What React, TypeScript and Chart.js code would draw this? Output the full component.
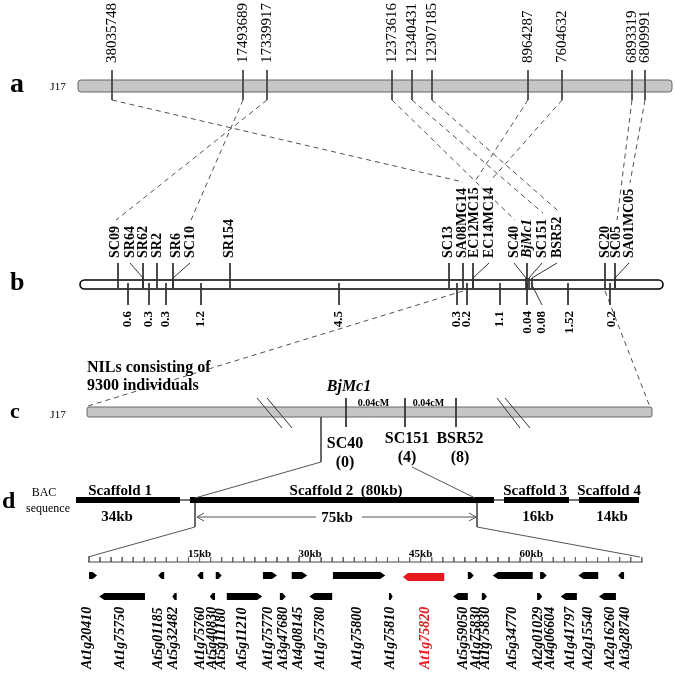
import React, { useEffect, useRef } from 'react';
import { Chart, registerables } from 'chart.js';
Chart.register(...registerables);

// ---------- DATA ----------
// a: physical positions (bp) on J17, schematic map positions
const physLabels = ['38035748', '17493689', '17339917', '12373616', '12340431', '12307185', '8964287', '7604632', '6893319', '6809991'];
const physPos = [112, 243, 267, 392, 412, 432, 528, 562, 632, 645];
// index of linked marker in b
const physToB = [8, 5, 0, 11, 13, 14, 9, 10, 16, 17];

// b: genetic map markers
const bMarkers = ['SC09', 'SR64', 'SR62', 'SR2', 'SR6', 'SC10', 'SR154', 'SC13', 'SA08MG14', 'EC12MC15', 'EC14MC14', 'SC40', 'BjMc1', 'SC151', 'BSR52', 'SC20', 'SC05', 'SA01MC05'];
const bLabelPos = [115, 130, 143, 157, 176, 190, 229, 448, 462, 474, 489, 514, 527, 542, 557, 605, 616, 629];
const bLocusPos = [118, 143, 143, 157, 173, 173, 230, 449, 463, 473, 473, 526, 527, 529, 532, 605, 615, 615];
const bDistances = ['0.6', '0.3', '0.3', '1.2', '4.5', '0.3', '0.2', '1.1', '0.04', '0.08', '1.52', '0.2'];
const bDistTickPos = [128, 149, 166, 201, 339, 457, 467, 500, 527, 531, 568, 610];
const bDistLabelPos = [128, 149, 166, 201, 339, 457, 467, 500, 528, 542, 570, 612];

// c: fine map
const cMarkers = ['SC40', 'SC151', 'BSR52'];
const cRecombinants = ['(0)', '(4)', '(8)'];
const cMarkerPos = [346, 405, 456];
const cLabelPos = [345, 407, 460];
const cIntervals = ['0.04cM', '0.04cM'];

// d: BAC scaffolds
const scaffoldNames = ['Scaffold 1', 'Scaffold 2  (80kb)', 'Scaffold 3', 'Scaffold 4'];
const scaffoldSizes = ['34kb', '', '16kb', '14kb'];
const scaffoldStart = [76, 190, 504, 579];
const scaffoldEnd = [180, 494, 569, 639];
const scaffoldNamePos = [120, 346, 535, 609];
const scaffoldSizePos = [117, 0, 538, 612];

// genes (kb on the 75 kb interval)
const rulerLabelsKb = [15, 30, 45, 60];
const geneNames = ['At1g20410', 'At1g75750', 'At5g01185', 'At5g32482', 'At1g75760', 'At5g40830', 'At5g11180', 'At5g11210', 'At1g75770', 'At3g47680', 'At4g08145', 'At1g75780', 'At1g75800', 'At1g75810', 'At1g75820', 'At5g59050', 'At1g75830', 'At1g75830', 'At5g34770', 'At2g01029', 'At4g06604', 'At1g41797', 'At2g15540', 'At2g16260', 'At3g28740'];
const geneStartKb = [0.0, 1.4, 9.4, 11.3, 14.7, 16.4, 17.2, 18.7, 23.6, 25.9, 27.5, 29.9, 33.1, 40.7, 42.6, 49.4, 51.4, 53.3, 54.8, 61.2, 60.8, 64.0, 66.4, 69.2, 71.8];
const geneEndKb = [1.1, 7.6, 10.2, 11.9, 15.5, 17.1, 18.0, 23.5, 25.5, 26.7, 29.6, 33.0, 40.2, 41.2, 48.2, 51.4, 52.2, 54.0, 60.2, 62.1, 61.5, 66.2, 69.1, 71.5, 72.6];
const geneStrand = [1, -1, -1, -1, -1, -1, 1, 1, 1, 1, 1, -1, 1, 1, -1, -1, 1, 1, -1, 1, 1, -1, -1, -1, -1];
const geneRow = [1, 2, 1, 2, 1, 2, 1, 2, 1, 2, 1, 2, 1, 2, 1, 2, 1, 2, 1, 1, 2, 2, 1, 2, 1];
const geneLabelKb = [-0.27, 4.21, 9.36, 11.4, 15.06, 16.69, 17.91, 20.76, 24.29, 26.32, 28.36, 31.34, 36.36, 40.84, 45.59, 50.75, 52.51, 53.73, 57.39, 60.92, 62.55, 65.27, 67.71, 70.69, 72.73];
const candidateGene = 'At1g75820';

// ---------- LAYOUT / STYLE ----------
const W = 675;
const H = 673;
const SERIF = '"Liberation Serif", "Times New Roman", serif';
const RULER_X0 = 89;
const RULER_X1 = 641.75;
const RULER_KB = 75;
const RED = '#e41a1c';
const DASH_COLOR = '#505050';

export default function App() {
  const ref = useRef<HTMLCanvasElement>(null);

  useEffect(() => {
    const canvas = ref.current!;
    const meas = document.createElement('canvas').getContext('2d')!;
    const tw = (t: string, font: string) => { meas.font = font; return meas.measureText(t).width; };
    const kbX = (kb: number) => RULER_X0 + (kb / RULER_KB) * (RULER_X1 - RULER_X0);

    const segs: any[] = [];
    const seg = (pts: number[][], color = '#333', width = 1, dash: number[] = [], cap: CanvasLineCap = 'butt') =>
      segs.push({ pts, color, width, dash, cap });

    const bFont = `bold 14px ${SERIF}`;
    const bItalic = `italic bold 14px ${SERIF}`;

    // a marker lines
    physPos.forEach((p) => seg([[p, 70], [p, 100]], '#444', 1));
    // a -> b dashed links
    physPos.forEach((p, i) => {
      const j = physToB[i];
      const name = bMarkers[j];
      const top = 258 - tw(name, name === 'BjMc1' ? bItalic : bFont) - 6;
      seg([[p, 100], [bLabelPos[j] + 1, top]], DASH_COLOR, 1, [5, 4]);
    });
    // b marker ticks
    bMarkers.forEach((m, i) => {
      const l = bLabelPos[i];
      const c = bLocusPos[i];
      if (Math.abs(l - c) > 4) seg([[l, 263], [c, 278], [c, 288]], '#333', 1);
      else seg([[c, 263], [c, 288]], '#333', 1);
    });
    // b distance ticks
    bDistTickPos.forEach((t, i) => {
      const l = bDistLabelPos[i];
      if (Math.abs(l - t) > 4) seg([[t, 283], [l, 305]], '#333', 1);
      else seg([[t, 283], [t, 305]], '#333', 1);
    });
    // b -> c dashed
    seg([[463, 291], [88, 406]], DASH_COLOR, 1, [5, 4]);
    seg([[605, 291], [650, 407]], DASH_COLOR, 1, [5, 4]);
    // c marker ticks
    cMarkerPos.forEach((p) => seg([[p, 398], [p, 427]], '#333', 1));
    // c break marks
    seg([[257, 398], [282, 428]], '#333', 1);
    seg([[267, 398], [292, 428]], '#333', 1);
    seg([[497, 398], [520, 428]], '#333', 1);
    seg([[505, 398], [530, 428]], '#333', 1);
    // c -> d zoom lines
    seg([[321, 417], [321, 462], [195, 498]], '#555', 1);
    seg([[412, 467], [475, 498]], '#555', 1);
    // scaffolds
    for (let i = 0; i < scaffoldStart.length - 1; i++) seg([[scaffoldEnd[i], 500], [scaffoldStart[i + 1], 500]], '#777', 2);
    scaffoldStart.forEach((s, i) => seg([[s, 500], [scaffoldEnd[i], 500]], '#000', 6));
    // 75 kb interval
    seg([[195, 498], [195, 527]], '#555', 1);
    seg([[477, 498], [477, 527]], '#555', 1);
    seg([[197, 517], [316, 517]], '#555', 1);
    seg([[362, 517], [476, 517]], '#555', 1);
    seg([[204, 513], [197, 517], [204, 521]], '#555', 1);
    seg([[469, 513], [476, 517], [469, 521]], '#555', 1);
    seg([[195, 527], [88, 557]], '#555', 1);
    seg([[477, 527], [640, 557]], '#555', 1);
    // ruler
    seg([[kbX(0) - 1, 562], [kbX(RULER_KB) + 1, 562]], '#444', 1);
    for (let k = 0; k <= RULER_KB + 0.01; k += 1.5) seg([[kbX(k), 557], [kbX(k), 562]], '#666', 1);

    const datasets = segs.map((s) => ({
      data: s.pts.map(([x, y]: number[]) => ({ x, y })),
      showLine: true,
      borderColor: s.color,
      borderWidth: s.width,
      borderDash: s.dash,
      borderCapStyle: s.cap,
      pointRadius: 0,
      pointHoverRadius: 0,
      fill: false,
      tension: 0,
      clip: false,
    }));

    const roundRect = (ctx: CanvasRenderingContext2D, x: number, y: number, w: number, h: number, r: number) => {
      ctx.beginPath();
      ctx.moveTo(x + r, y);
      ctx.lineTo(x + w - r, y);
      ctx.arcTo(x + w, y, x + w, y + r, r);
      ctx.lineTo(x + w, y + h - r);
      ctx.arcTo(x + w, y + h, x + w - r, y + h, r);
      ctx.lineTo(x + r, y + h);
      ctx.arcTo(x, y + h, x, y + h - r, r);
      ctx.lineTo(x, y + r);
      ctx.arcTo(x, y, x + r, y, r);
      ctx.closePath();
    };

    const drawPlugin = {
      id: 'mapDraw',
      beforeDatasetsDraw(chart: any) {
        const ctx: CanvasRenderingContext2D = chart.ctx;
        const sx = chart.scales.x;
        const sy = chart.scales.y;
        const X = (v: number) => sx.getPixelForValue(v);
        const Y = (v: number) => sy.getPixelForValue(v);
        ctx.save();
        // bar a
        roundRect(ctx, X(78), Y(80), X(672) - X(78), Y(92) - Y(80), 3);
        ctx.fillStyle = '#c6c6c6';
        ctx.fill();
        ctx.strokeStyle = '#666';
        ctx.lineWidth = 1;
        ctx.stroke();
        // bar b
        roundRect(ctx, X(80), Y(280), X(663) - X(80), Y(289) - Y(280), 4.5);
        ctx.fillStyle = '#fff';
        ctx.fill();
        ctx.strokeStyle = '#000';
        ctx.lineWidth = 1.6;
        ctx.stroke();
        // bar c
        roundRect(ctx, X(87), Y(407), X(652) - X(87), Y(417) - Y(407), 2);
        ctx.fillStyle = '#c6c6c6';
        ctx.fill();
        ctx.strokeStyle = '#666';
        ctx.lineWidth = 1;
        ctx.stroke();
        // genes
        geneNames.forEach((g, i) => {
          const x0 = X(kbX(geneStartKb[i]));
          const x1 = X(kbX(geneEndKb[i]));
          const red = g === candidateGene;
          const yc = Y(geneRow[i] === 1 ? (red ? 577 : 575.5) : 596.5);
          const h = red ? 8 : 7;
          const w = x1 - x0;
          const head = Math.min(5, w * 0.55);
          ctx.beginPath();
          if (geneStrand[i] > 0) {
            ctx.moveTo(x0, yc - h / 2);
            ctx.lineTo(x1 - head, yc - h / 2);
            ctx.lineTo(x1, yc);
            ctx.lineTo(x1 - head, yc + h / 2);
            ctx.lineTo(x0, yc + h / 2);
          } else {
            ctx.moveTo(x1, yc - h / 2);
            ctx.lineTo(x0 + head, yc - h / 2);
            ctx.lineTo(x0, yc);
            ctx.lineTo(x0 + head, yc + h / 2);
            ctx.lineTo(x1, yc + h / 2);
          }
          ctx.closePath();
          ctx.fillStyle = red ? RED : '#000';
          ctx.fill();
        });
        ctx.restore();
      },
      afterDatasetsDraw(chart: any) {
        const ctx: CanvasRenderingContext2D = chart.ctx;
        const sx = chart.scales.x;
        const sy = chart.scales.y;
        const X = (v: number) => sx.getPixelForValue(v);
        const Y = (v: number) => sy.getPixelForValue(v);
        ctx.save();
        ctx.fillStyle = '#000';
        const text = (t: string, x: number, y: number, font: string, align: CanvasTextAlign = 'center', base: CanvasTextBaseline = 'alphabetic', color = '#000') => {
          ctx.font = font;
          ctx.textAlign = align;
          ctx.textBaseline = base;
          ctx.fillStyle = color;
          ctx.fillText(t, X(x), Y(y));
        };
        const vtext = (t: string, x: number, y: number, font: string, align: CanvasTextAlign, color = '#000') => {
          ctx.save();
          ctx.translate(X(x), Y(y));
          ctx.rotate(-Math.PI / 2);
          ctx.font = font;
          ctx.textAlign = align;
          ctx.textBaseline = 'middle';
          ctx.fillStyle = color;
          ctx.fillText(t, 0, 0);
          ctx.restore();
        };
        // panel letters
        text('a', 10, 92, `bold 28px ${SERIF}`, 'left');
        text('b', 10, 290, `bold 26px ${SERIF}`, 'left');
        text('c', 10, 418, `bold 22px ${SERIF}`, 'left');
        text('d', 2, 508, `bold 24px ${SERIF}`, 'left');
        text('J17', 58, 87, `11px ${SERIF}`, 'center', 'middle');
        text('J17', 58, 415, `11px ${SERIF}`, 'center', 'middle');
        // a labels
        physLabels.forEach((l, i) => vtext(l, physPos[i], 63, `15px ${SERIF}`, 'left'));
        // b labels
        bMarkers.forEach((m, i) => vtext(m, bLabelPos[i], 258, m === 'BjMc1' ? bItalic : bFont, 'left'));
        bDistances.forEach((d, i) => vtext(d, bDistLabelPos[i], 311, `bold 13px ${SERIF}`, 'right'));
        // c
        text('NILs consisting of', 87, 372, `bold 16px ${SERIF}`, 'left');
        text('9300 individuals', 87, 390, `bold 16px ${SERIF}`, 'left');
        text('BjMc1', 349, 391, `italic bold 16px ${SERIF}`, 'center');
        cIntervals.forEach((t, i) => text(t, (cMarkerPos[i] + cMarkerPos[i + 1]) / 2 - 2, 406, `bold 10px ${SERIF}`, 'center'));
        cMarkers.forEach((m, i) => {
          const base = i === 0 ? 448 : 443;
          text(m, cLabelPos[i], base, `bold 16px ${SERIF}`, 'center');
          text(cRecombinants[i], cLabelPos[i], base + 19, `bold 16px ${SERIF}`, 'center');
        });
        // d
        text('BAC', 44, 496, `12px ${SERIF}`, 'center');
        text('sequence', 48, 512, `12px ${SERIF}`, 'center');
        scaffoldNames.forEach((n, i) => text(n, scaffoldNamePos[i], 495, `bold 15px ${SERIF}`, 'center'));
        scaffoldSizes.forEach((s, i) => { if (s) text(s, scaffoldSizePos[i], 521, `bold 15px ${SERIF}`, 'center'); });
        text('75kb', 337, 522, `bold 15px ${SERIF}`, 'center');
        rulerLabelsKb.forEach((k) => text(`${k}kb`, kbX(k), 557, `bold 11px ${SERIF}`, 'center'));
        geneNames.forEach((g, i) =>
          vtext(g, kbX(geneLabelKb[i]), 669, `italic bold 14px ${SERIF}`, 'left', g === candidateGene ? RED : '#000'));
        ctx.restore();
      },
    };

    const chart = new Chart(canvas, {
      type: 'scatter',
      data: { datasets },
      options: {
        animation: false,
        responsive: false,
        events: [],
        layout: { padding: 0 },
        scales: {
          x: { type: 'linear', min: 0, max: W, display: false },
          y: { type: 'linear', min: 0, max: H, reverse: true, display: false },
        },
        plugins: { legend: { display: false }, tooltip: { enabled: false } },
      },
      plugins: [drawPlugin],
    } as any);
    return () => chart.destroy();
  }, []);

  return (
    <div style={{ position: 'fixed', left: 0, top: 0, width: W, height: H, background: '#fff' }}>
      <canvas ref={ref} width={W} height={H} style={{ display: 'block' }} />
    </div>
  );
}
